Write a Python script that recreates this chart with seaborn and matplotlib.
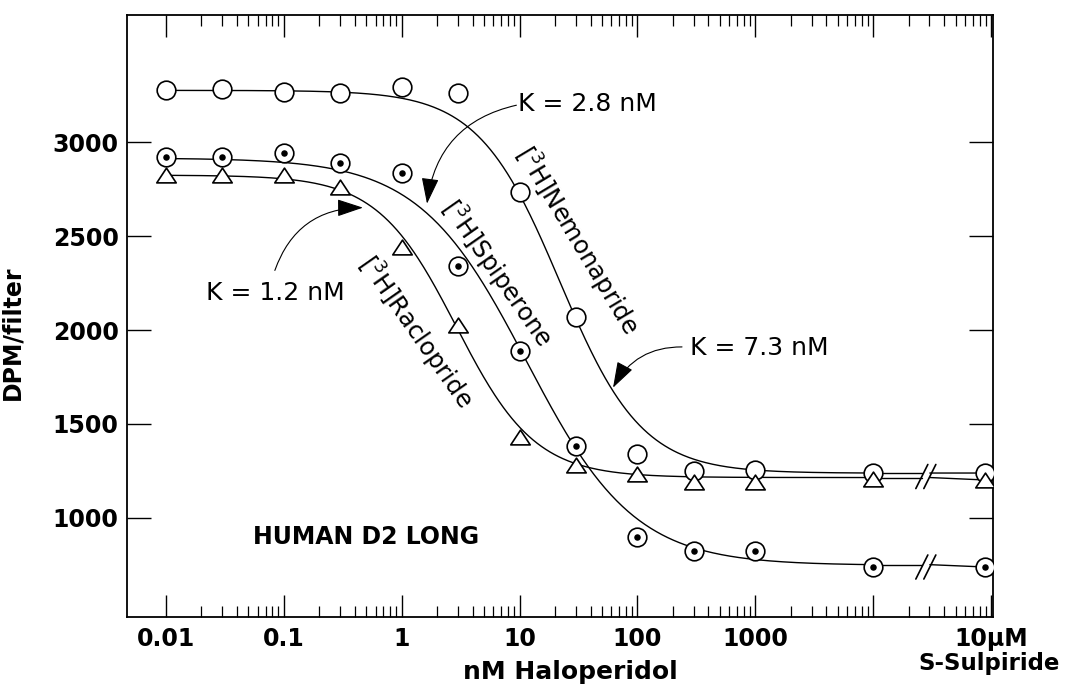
import numpy as np
import pandas as pd
import matplotlib
matplotlib.use("Agg")
import matplotlib.pyplot as plt
import seaborn as sns
from matplotlib.ticker import FixedLocator, FixedFormatter, NullFormatter
from matplotlib.path import Path
from matplotlib.markers import MarkerStyle

# ---------------- data ----------------
conc_nM = [0.01, 0.03, 0.1, 0.3, 1, 3, 10, 30, 100, 300, 1000, 10000]
nemonapride = [3277, 3282, 3266, 3261, 3293, 3261, 2734, 2069, 1340, 1250, 1255, 1239]
spiperone = [2920, 2920, 2941, 2888, 2835, 2340, 1888, 1385, 899, 825, 825, 739]
raclopride = [2824, 2824, 2824, 2761, 2441, 2027, 1431, 1282, 1235, 1191, 1191, 1207]
# values with 10 uM S-Sulpiride (non-specific binding)
sulpiride_nemonapride = 1239
sulpiride_spiperone = 739
sulpiride_raclopride = 1202

# fitted competition curves: top, bottom, IC50 (nM), Hill slope
fit_nemonapride = (3275, 1238, 22.0, 1.25)
fit_spiperone = (2915, 748, 11.5, 0.95)
fit_raclopride = (2824, 1215, 2.9, 1.3)

x_major = [0.01, 0.1, 1, 10, 100, 1000, 10000, 100000]
x_major_labels = ["0.01", "0.1", "1", "10", "100", "1000", "", "10\u03bcM"]
y_ticks = [1000, 1500, 2000, 2500, 3000]
y_tick_labels = ["1000", "1500", "2000", "2500", "3000"]

k_labels = ["K = 2.8 nM", "K = 1.2 nM", "K = 7.3 nM"]
series_labels = ["[$^3$H]Nemonapride", "[$^3$H]Spiperone", "[$^3$H]Raclopride"]

# plotting positions (not data)
SULPIRIDE_POS = 8.9e4
BREAK_POS = 2.8e4

# ---------------- style ----------------
sns.set_theme(style="ticks")
plt.rcParams["font.family"] = ["DejaVu Sans"]
plt.rcParams["mathtext.fontset"] = "dejavusans"
for k in ["text.color", "axes.labelcolor", "xtick.color", "ytick.color", "axes.edgecolor"]:
    plt.rcParams[k] = "black"

fig = plt.figure(figsize=(10.66, 6.92), dpi=100)
ax = fig.add_axes([127 / 1066, 1 - 617 / 692, 866 / 1066, 602 / 692])
ax.set_xscale("log")
ax.set_xlim(0.00467, 1.04e5)
ax.set_ylim(473, 3676)


def four_pl(x, p):
    top, bottom, ic50, h = p
    return bottom + (top - bottom) / (1 + (x / ic50) ** h)


grid = np.logspace(-2, 4, 500)
gap = 10 ** (4 / 117.86)
for p, sulp in [(fit_nemonapride, sulpiride_nemonapride),
                (fit_spiperone, sulpiride_spiperone),
                (fit_raclopride, sulpiride_raclopride)]:
    df = pd.DataFrame({"x": grid, "y": four_pl(grid, p)})
    sns.lineplot(data=df, x="x", y="y", ax=ax, color="black", lw=1.0,
                 zorder=2, estimator=None, sort=False)
    yend = four_pl(1e4, p)
    ax.plot([1e4, BREAK_POS / gap], [yend, yend], color="black", lw=1.0, zorder=2)
    ax.plot([BREAK_POS * gap, SULPIRIDE_POS], [yend, sulp], color="black", lw=1.0, zorder=2)

# axis break marks
dx = 10 ** (6 / 117.86)
for yb in [0.5 * (sulpiride_nemonapride + sulpiride_raclopride), sulpiride_spiperone]:
    for xs in [BREAK_POS / gap, BREAK_POS * gap]:
        ax.plot([xs / dx, xs * dx], [yb - 64, yb + 64], color="black", lw=1.2, zorder=6)

xs_all = conc_nM + [SULPIRIDE_POS]
tri_path = Path([(-1, -0.76), (1, -0.76), (0, 0.76), (-1, -0.76)],
                [Path.MOVETO, Path.LINETO, Path.LINETO, Path.CLOSEPOLY])
tri = MarkerStyle(tri_path)

sns.scatterplot(x=xs_all, y=nemonapride + [sulpiride_nemonapride], ax=ax,
                marker="o", s=180, facecolor="white", edgecolor="black",
                linewidth=1.2, zorder=3)
sns.scatterplot(x=xs_all, y=spiperone + [sulpiride_spiperone], ax=ax,
                marker="o", s=180, facecolor="white", edgecolor="black",
                linewidth=1.2, zorder=4)
sns.scatterplot(x=xs_all, y=spiperone + [sulpiride_spiperone], ax=ax,
                marker="o", s=22, facecolor="black", edgecolor="black",
                linewidth=0, zorder=4.5)
sns.scatterplot(x=xs_all, y=raclopride + [sulpiride_raclopride], ax=ax,
                marker=tri, s=196, facecolor="white", edgecolor="black",
                linewidth=1.2, zorder=5)

# ---------------- axes / ticks ----------------
minor = [s * 10.0 ** d for d in range(-2, 5) for s in range(2, 10)]
ax.xaxis.set_major_locator(FixedLocator(x_major))
ax.xaxis.set_major_formatter(FixedFormatter(x_major_labels))
ax.xaxis.set_minor_locator(FixedLocator(minor))
ax.xaxis.set_minor_formatter(NullFormatter())
ax.set_yticks(y_ticks)
ax.set_yticklabels(y_tick_labels)
ax.tick_params(axis="x", which="major", direction="in", length=16, width=1.0,
               top=True, bottom=True, pad=7, labelsize=17)
ax.tick_params(axis="x", which="minor", direction="in", length=8, width=0.9,
               top=True, bottom=True)
ax.tick_params(axis="y", which="major", direction="in", length=17, width=1.0,
               left=True, right=True, pad=6, labelsize=17)
for lab in ax.get_xticklabels() + ax.get_yticklabels():
    lab.set_fontweight("bold")
for sp in ax.spines.values():
    sp.set_visible(True)
    sp.set_linewidth(1.3)
    sp.set_color("black")

ax.set_xlabel("nM Haloperidol", fontsize=18, fontweight="bold")
ax.xaxis.set_label_coords(0.5115, -0.072)
ax.set_ylabel("DPM/filter", fontsize=17, fontweight="bold")
ax.yaxis.set_label_coords(-0.118, 0.472)
ax.text(0.996, -0.077, "S-Sulpiride", transform=ax.transAxes, ha="center",
        va="center", fontsize=16.5, fontweight="bold")

# ---------------- annotations ----------------
aprops = dict(arrowstyle="-|>,head_length=0.9,head_width=0.3", color="black",
              lw=0.8, shrinkA=0, shrinkB=0, mutation_scale=18)
ax.annotate("", xy=(1.64, 2672), xytext=(9.4, 3196),
            arrowprops=dict(aprops, connectionstyle="arc3,rad=0.35"))
ax.text(9.7, 3201, k_labels[0], ha="left", va="center", fontsize=18)
ax.annotate("", xy=(0.469, 2651), xytext=(0.0839, 2317),
            arrowprops=dict(aprops, connectionstyle="arc3,rad=-0.35"))
ax.text(0.0849, 2196, k_labels[1], ha="center", va="center", fontsize=18)
ax.annotate("", xy=(62.1, 1693), xytext=(239, 1910),
            arrowprops=dict(aprops, connectionstyle="arc3,rad=0.3"))
ax.text(279, 1905, k_labels[2], ha="left", va="center", fontsize=18)

ax.text(30.7, 2479, series_labels[0], rotation=-59, rotation_mode="anchor",
        ha="center", va="center", fontsize=17.5)
ax.text(6.43, 2303, series_labels[1], rotation=-55, rotation_mode="anchor",
        ha="center", va="center", fontsize=17.5)
ax.text(1.32, 1989, series_labels[2], rotation=-55, rotation_mode="anchor",
        ha="center", va="center", fontsize=17.5)

ax.text(0.498, 899, "HUMAN D2 LONG", ha="center", va="center", fontsize=17,
        fontweight="bold")

fig.savefig("out.png", dpi=100)
